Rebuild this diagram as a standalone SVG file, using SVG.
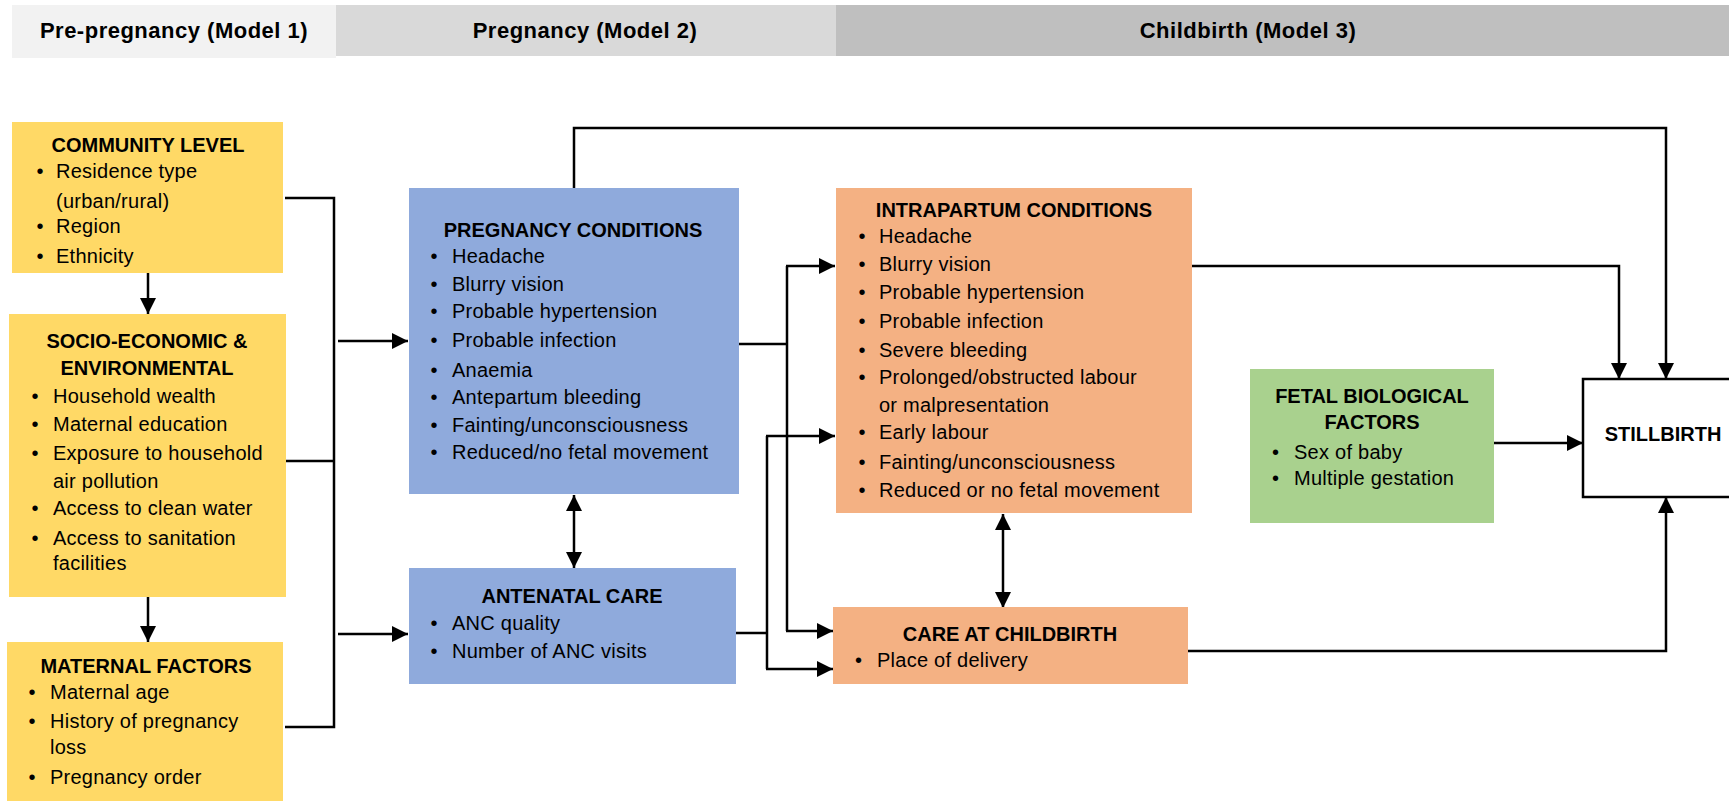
<svg xmlns="http://www.w3.org/2000/svg" width="1729" height="801" viewBox="0 0 1729 801">
  <style>
    text { font-family: "Liberation Sans", Arial, sans-serif; fill: #000; }
    .hd { font-size: 22px; font-weight: bold; letter-spacing: 0.5px; text-anchor: middle; }
    .tt { font-size: 20px; font-weight: bold; text-anchor: middle; }
    .it { font-size: 20px; letter-spacing: 0.25px; }
    .yel { fill: #FFD966; }
    .blu { fill: #8FAADC; }
    .org { fill: #F4B183; }
    .grn { fill: #A9D18E; }
    .ln { fill: none; stroke: #000; stroke-width: 2.5; }
    .ar { marker-end: url(#head); }
    .dbl { marker-start: url(#head); marker-end: url(#head); }
  </style>
  <defs>
    <marker id="head" markerUnits="userSpaceOnUse" markerWidth="16" markerHeight="16" refX="16" refY="8" orient="auto-start-reverse">
      <path d="M0,0 L16,8 L0,16 Z" fill="#000"/>
    </marker>
  </defs>

  <rect width="1729" height="801" fill="#fff"/>

  <!-- stage bands -->
  <g id="bands">
    <rect x="12" y="5" width="324" height="53" fill="#F2F2F2"/>
    <rect x="336" y="5" width="500" height="51" fill="#D9D9D9"/>
    <rect x="836" y="5" width="893" height="51" fill="#BFBFBF"/>
    <text class="hd" x="174" y="38">Pre-pregnancy (Model 1)</text>
    <text class="hd" x="585" y="38">Pregnancy (Model 2)</text>
    <text class="hd" x="1248" y="38">Childbirth (Model 3)</text>
  </g>

  <!-- connectors -->
  <g id="connectors">
    <path class="ln ar" d="M148,273 V314"/>
    <path class="ln ar" d="M148,597 V642"/>
    <path class="ln" d="M285,198 H334 V727 H285 M286,461 H334"/>
    <path class="ln ar" d="M338,341 H408"/>
    <path class="ln ar" d="M338,634 H408"/>
    <path class="ln dbl" d="M574,495 V568"/>
    <path class="ln" d="M739,344 H787 M787,266 V631 M736,633 H767 M767,436 V669"/>
    <path class="ln ar" d="M786,266 H835"/>
    <path class="ln ar" d="M786,631 H833"/>
    <path class="ln ar" d="M766,436 H835"/>
    <path class="ln ar" d="M766,669 H833"/>
    <path class="ln dbl" d="M1003,514 V608"/>
    <path class="ln ar" d="M1192,266 H1619 V379"/>
    <path class="ln ar" d="M574,188 V128 H1666 V379"/>
    <path class="ln ar" d="M1494,443 H1583"/>
    <path class="ln ar" d="M1188,651 H1666 V497"/>
  </g>

  <g id="community">
    <rect class="yel" x="12" y="122" width="271" height="151"/>
    <text class="tt" x="148" y="152">COMMUNITY LEVEL</text>
    <text class="it" x="36.5" y="178">•</text><text class="it" x="56" y="178">Residence type</text>
    <text class="it" x="56" y="208">(urban/rural)</text>
    <text class="it" x="36.5" y="233">•</text><text class="it" x="56" y="233">Region</text>
    <text class="it" x="36.5" y="263">•</text><text class="it" x="56" y="263">Ethnicity</text>
  </g>

  <g id="socioeconomic">
    <rect class="yel" x="9" y="314" width="277" height="283"/>
    <text class="tt" x="147" y="348">SOCIO-ECONOMIC &amp;</text>
    <text class="tt" x="147" y="375">ENVIRONMENTAL</text>
    <text class="it" x="31.5" y="403">•</text><text class="it" x="53" y="403">Household wealth</text>
    <text class="it" x="31.5" y="431">•</text><text class="it" x="53" y="431">Maternal education</text>
    <text class="it" x="31.5" y="460">•</text><text class="it" x="53" y="460">Exposure to household</text>
    <text class="it" x="53" y="488">air pollution</text>
    <text class="it" x="31.5" y="515">•</text><text class="it" x="53" y="515">Access to clean water</text>
    <text class="it" x="31.5" y="545">•</text><text class="it" x="53" y="545">Access to sanitation</text>
    <text class="it" x="53" y="570">facilities</text>
  </g>

  <g id="maternal">
    <rect class="yel" x="7" y="642" width="276" height="159"/>
    <text class="tt" x="146" y="673">MATERNAL FACTORS</text>
    <text class="it" x="28.5" y="699">•</text><text class="it" x="50" y="699">Maternal age</text>
    <text class="it" x="28.5" y="728">•</text><text class="it" x="50" y="728">History of pregnancy</text>
    <text class="it" x="50" y="754">loss</text>
    <text class="it" x="28.5" y="784">•</text><text class="it" x="50" y="784">Pregnancy order</text>
  </g>

  <g id="pregnancy-conditions">
    <rect class="blu" x="409" y="188" width="330" height="306"/>
    <text class="tt" x="573" y="237">PREGNANCY CONDITIONS</text>
    <text class="it" x="430.5" y="263">•</text><text class="it" x="452" y="263">Headache</text>
    <text class="it" x="430.5" y="291">•</text><text class="it" x="452" y="291">Blurry vision</text>
    <text class="it" x="430.5" y="318">•</text><text class="it" x="452" y="318">Probable hypertension</text>
    <text class="it" x="430.5" y="347">•</text><text class="it" x="452" y="347">Probable infection</text>
    <text class="it" x="430.5" y="377">•</text><text class="it" x="452" y="377">Anaemia</text>
    <text class="it" x="430.5" y="404">•</text><text class="it" x="452" y="404">Antepartum bleeding</text>
    <text class="it" x="430.5" y="432">•</text><text class="it" x="452" y="432">Fainting/unconsciousness</text>
    <text class="it" x="430.5" y="459">•</text><text class="it" x="452" y="459">Reduced/no fetal movement</text>
  </g>

  <g id="antenatal-care">
    <rect class="blu" x="409" y="568" width="327" height="116"/>
    <text class="tt" x="572" y="603">ANTENATAL CARE</text>
    <text class="it" x="430.5" y="630">•</text><text class="it" x="452" y="630">ANC quality</text>
    <text class="it" x="430.5" y="658">•</text><text class="it" x="452" y="658">Number of ANC visits</text>
  </g>

  <g id="intrapartum-conditions">
    <rect class="org" x="836" y="188" width="356" height="325"/>
    <text class="tt" x="1014" y="217">INTRAPARTUM CONDITIONS</text>
    <text class="it" x="858.5" y="243">•</text><text class="it" x="879" y="243">Headache</text>
    <text class="it" x="858.5" y="271">•</text><text class="it" x="879" y="271">Blurry vision</text>
    <text class="it" x="858.5" y="299">•</text><text class="it" x="879" y="299">Probable hypertension</text>
    <text class="it" x="858.5" y="328">•</text><text class="it" x="879" y="328">Probable infection</text>
    <text class="it" x="858.5" y="357">•</text><text class="it" x="879" y="357">Severe bleeding</text>
    <text class="it" x="858.5" y="384">•</text><text class="it" x="879" y="384">Prolonged/obstructed labour</text>
    <text class="it" x="879" y="412">or malpresentation</text>
    <text class="it" x="858.5" y="439">•</text><text class="it" x="879" y="439">Early labour</text>
    <text class="it" x="858.5" y="469">•</text><text class="it" x="879" y="469">Fainting/unconsciousness</text>
    <text class="it" x="858.5" y="497">•</text><text class="it" x="879" y="497">Reduced or no fetal movement</text>
  </g>

  <g id="care-at-childbirth">
    <rect class="org" x="833" y="607" width="355" height="77"/>
    <text class="tt" x="1010" y="641">CARE AT CHILDBIRTH</text>
    <text class="it" x="855" y="667">•</text><text class="it" x="877" y="667">Place of delivery</text>
  </g>

  <g id="fetal-factors">
    <rect class="grn" x="1250" y="369" width="244" height="154"/>
    <text class="tt" x="1372" y="403">FETAL BIOLOGICAL</text>
    <text class="tt" x="1372" y="429">FACTORS</text>
    <text class="it" x="1272" y="459">•</text><text class="it" x="1294" y="459">Sex of baby</text>
    <text class="it" x="1272" y="485">•</text><text class="it" x="1294" y="485">Multiple gestation</text>
  </g>

  <g id="stillbirth">
    <rect x="1583" y="379" width="160" height="118" fill="#fff" stroke="#000" stroke-width="2.5"/>
    <text class="tt" x="1663" y="441">STILLBIRTH</text>
  </g>
</svg>
